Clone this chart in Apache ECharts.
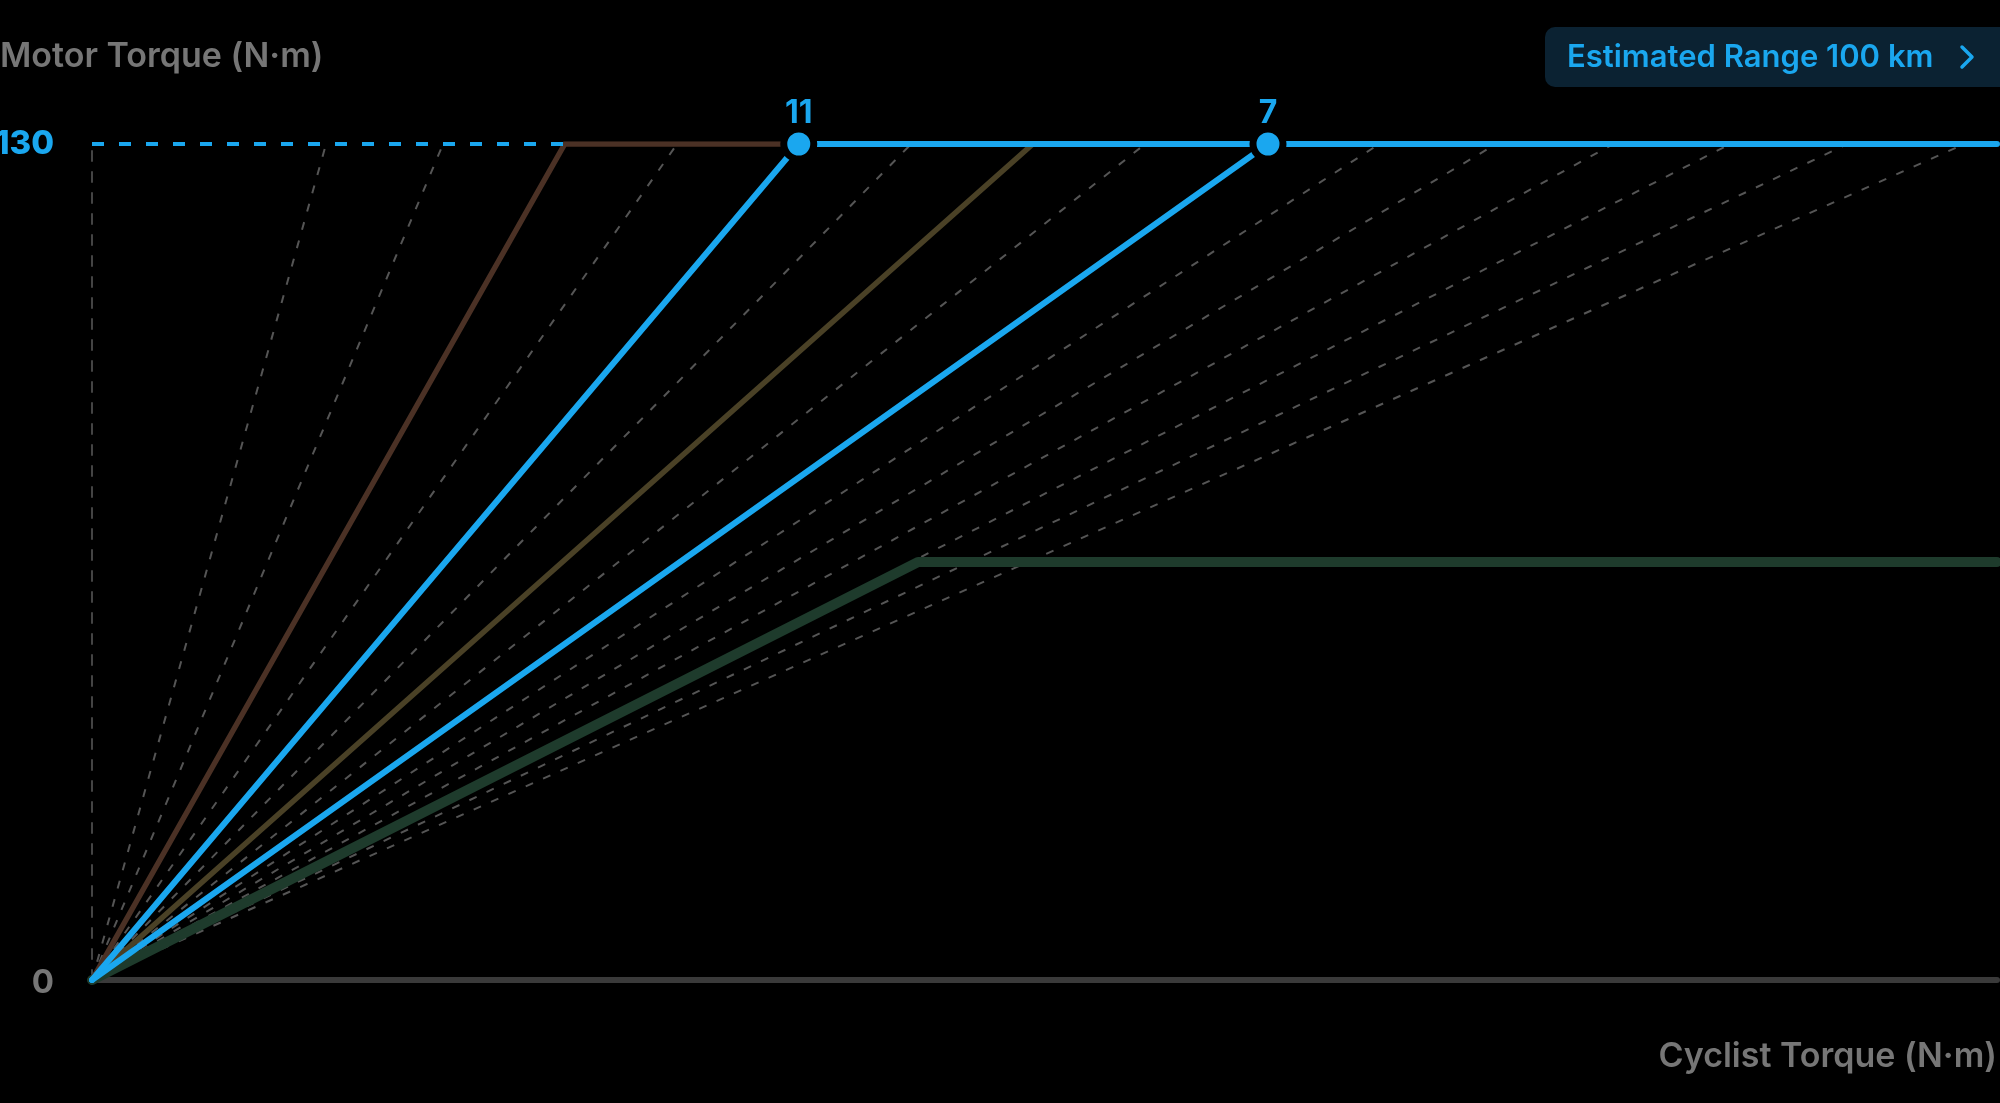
<!DOCTYPE html>
<html>
<head>
<meta charset="utf-8">
<script src="https://cdn.jsdelivr.net/npm/echarts@6/dist/echarts.min.js"></script>
<style>
  html,body{margin:0;padding:0;background:#000;}
  #chart{width:2000px;height:1103px;}
</style>
</head>
<body>
<div id="chart"></div>
<script>
// data (x in N·m of cyclist torque, y in N·m of motor torque)
var maxTorque = 130;
var xMax = 81.4;
var yTicks = [0, 130];
// cyclist torque where each grey guide line reaches the 130 cap
var guideEnds = [10, 15, 25, 35, 45, 55, 60, 65, 70, 75, 80];
var brownLine = [[0, 0], [20.2, 130], [30.2, 130]];
var oliveLine = [[0, 0], [40.2, 130]];
var greenLine = [[0, 0], [35.3, 65], [81.4, 65]];
var blueLineA = [[0, 0], [30.2, 130], [81.4, 130]];
var blueLineB = [[0, 0], [50.25, 130]];
var capDashed = [[0, 130], [20.2, 130]];
var markerPoints = [[30.2, 130], [50.25, 130]];
var markerLabels = ['11', '7'];

var FONT = 'Inter, "Noto Sans", sans-serif';
var BLUE = '#1aa7ef';
var GREY_TXT = '#767676';

var chart = echarts.init(document.getElementById('chart'));

var series = [];
guideEnds.forEach(function(x){
    series.push({
        type: 'line',
        data: [[0, 0], [x, maxTorque]],
        symbol: 'none',
        silent: true,
        z: 1,
        lineStyle: {color: '#555', width: 2, type: [8, 11]}
    });
});
function solid(data, color, width, z){
    return {
        type: 'line', data: data, symbol: 'none', silent: true, z: z,
        lineStyle: {color: color, width: width, cap: 'round', join: 'round'}
    };
}
series.push(solid(greenLine, '#1e3b2c', 10, 2));
series.push(solid(oliveLine, '#4a4126', 5.5, 3));
series.push(solid(brownLine, '#4b3125', 5.5, 3));
series.push({
    type: 'line', data: capDashed, symbol: 'none', silent: true, z: 4,
    lineStyle: {color: BLUE, width: 4, type: [12, 15]}
});
series.push(solid(blueLineB, BLUE, 6, 5));
series.push(solid(blueLineA, BLUE, 6, 5));
series.push({
    type: 'scatter',
    data: markerPoints,
    symbolSize: 30,
    z: 10,
    silent: true,
    itemStyle: {color: BLUE, borderColor: '#000', borderWidth: 7, opacity: 1},
    label: {
        show: true,
        position: 'top',
        distance: -4,
        formatter: function(p){ return markerLabels[p.dataIndex]; },
        color: BLUE,
        fontFamily: FONT,
        fontWeight: 700,
        fontSize: 32
    }
});

chart.setOption({
    backgroundColor: '#000',
    animation: false,
    title: {
        text: 'Motor Torque (N·m)',
        left: 0,
        top: 40,
        padding: 0,
        textStyle: {color: GREY_TXT, fontFamily: FONT, fontWeight: 600, fontSize: 34}
    },
    grid: {left: 92, right: 3, top: 144, bottom: 123, containLabel: false, outerBoundsMode: 'none'},
    xAxis: {
        type: 'value',
        min: 0,
        max: xMax,
        name: 'Cyclist Torque (N·m)',
        nameLocation: 'end',
        nameGap: 0,
        nameTextStyle: {
            color: GREY_TXT, fontFamily: FONT, fontWeight: 600, fontSize: 34,
            align: 'right', verticalAlign: 'top', padding: [60, 0, 0, 0]
        },
        axisLine: {show: true, lineStyle: {color: '#3a3a3a', width: 6}},
        axisTick: {show: false},
        axisLabel: {show: false},
        splitLine: {show: false}
    },
    yAxis: {
        type: 'value',
        min: yTicks[0],
        max: yTicks[1],
        interval: yTicks[1] - yTicks[0],
        axisLine: {show: true, lineStyle: {color: '#444', width: 2, type: [10, 11]}},
        axisTick: {show: false},
        splitLine: {show: false},
        axisLabel: {
            margin: 38,
            formatter: function(v){ return v === maxTorque ? '{b|' + v + '}' : '{g|' + v + '}'; },
            rich: {
                b: {color: BLUE, fontFamily: FONT, fontWeight: 800, fontSize: 33},
                g: {color: GREY_TXT, fontFamily: FONT, fontWeight: 700, fontSize: 33, padding: [6, 0, 0, 0]}
            }
        }
    },
    graphic: [{
        type: 'group',
        left: 1545,
        top: 27,
        children: [{
            type: 'rect',
            shape: {x: 0, y: 0, width: 480, height: 60, r: 10},
            style: {fill: '#0b2232'}
        }, {
            type: 'text',
            style: {
                x: 22, y: 31, text: 'Estimated Range 100 km',
                fill: BLUE, font: '600 31px ' + FONT,
                textVerticalAlign: 'middle'
            }
        }, {
            type: 'polyline',
            shape: {points: [[417, 20], [427, 30], [417, 40]]},
            style: {stroke: BLUE, lineWidth: 3.5, fill: null, lineCap: 'round', lineJoin: 'round'}
        }]
    }],
    series: series
});
</script>
</body>
</html>
